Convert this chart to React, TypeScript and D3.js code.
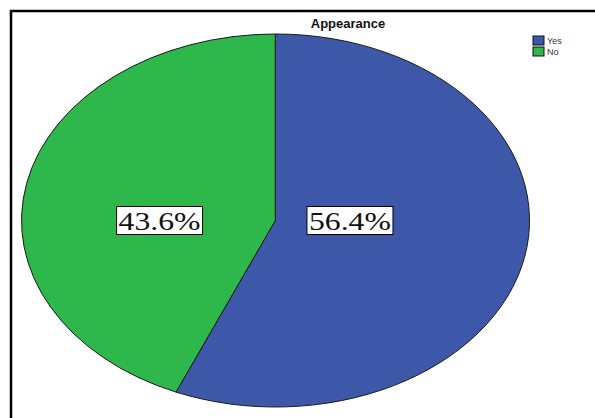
import React from "react";
import * as d3 from "d3";

const categories = ["Yes", "No"];
const values = [56.4, 43.6];
const labels = ["56.4%", "43.6%"];
const colors = ["#3d58a9", "#2eb84b"];
const title = "Appearance";

const W = 595;
const H = 418;
const cx = 275.3;
const cy = 220.5;
const rx = 254;
const ry = 186.5;
const labelK = [0.3, 0.465];

export default function App() {
  const pie = d3.pie<number>().sort(null).startAngle(0).endAngle(2 * Math.PI);
  const arcs = pie(values);
  const arc = d3.arc<d3.PieArcDatum<number>>().innerRadius(0).outerRadius(1);

  return (
    <svg
      width={W}
      height={H}
      viewBox={`0 0 ${W} ${H}`}
      style={{ position: "fixed", left: 0, top: 0, background: "#fff" }}
    >
      <rect x={0} y={0} width={W} height={H} fill="#fff" />
      <rect x={11} y={11} width={W + 20} height={H + 20} fill="none" stroke="#000" strokeWidth={2.5} />
      <text
        x={348}
        y={28}
        textAnchor="middle"
        fontFamily="Liberation Sans, Arial, sans-serif"
        fontWeight="bold"
        fontSize={13}
        fill="#111"
      >
        {title}
      </text>
      <g transform={`translate(${cx},${cy}) scale(${rx},${ry})`}>
        {arcs.map((a, i) => (
          <path
            key={categories[i]}
            d={arc(a) || ""}
            fill={colors[i]}
            stroke="#1a1a1a"
            strokeWidth={1}
            vectorEffect="non-scaling-stroke"
          />
        ))}
      </g>
      {arcs.map((a, i) => {
        const mid = (a.startAngle + a.endAngle) / 2;
        const x = cx + Math.sin(mid) * rx * labelK[i];
        const y = cy;
        const bw = 86;
        const bh = 28;
        return (
          <g key={"l" + i}>
            <rect x={x - bw / 2} y={y - bh / 2} width={bw} height={bh} fill="#fff" stroke="#000" strokeWidth={1} />
            <text
              x={x}
              y={y + 9}
              textAnchor="middle"
              fontFamily="Liberation Serif, Times New Roman, serif"
              fontSize={26}
              textLength={82}
              lengthAdjust="spacingAndGlyphs"
              fill="#111"
            >
              {labels[i]}
            </text>
          </g>
        );
      })}
      {categories.map((c, i) => (
        <g key={"lg" + c} transform={`translate(533,${36 + i * 11})`}>
          <rect x={0} y={0} width={11} height={9} fill={colors[i]} stroke="#111" strokeWidth={1} />
          <text
            x={14}
            y={8}
            fontFamily="Liberation Sans, Arial, sans-serif"
            fontSize={9}
            fill="#333"
          >
            {c}
          </text>
        </g>
      ))}
    </svg>
  );
}
